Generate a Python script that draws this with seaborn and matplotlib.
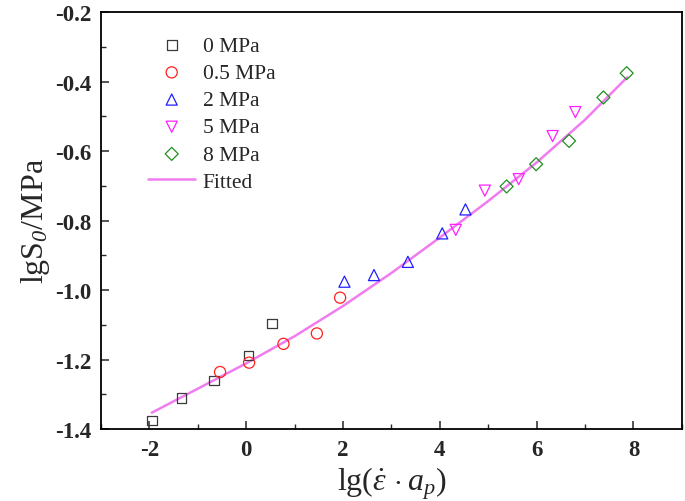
import numpy as np
import pandas as pd
import seaborn as sns
import matplotlib
matplotlib.use("Agg")
import matplotlib.pyplot as plt
from matplotlib.ticker import MultipleLocator, FormatStrFormatter

# data
x_0 = [-1.95, -1.34, -0.66, 0.05, 0.53]
y_0 = [-1.376, -1.310, -1.260, -1.188, -1.096]
x_05 = [-0.54, 0.06, 0.77, 1.46, 1.94]
y_05 = [-1.236, -1.209, -1.155, -1.125, -1.022]
x_2 = [2.03, 2.64, 3.34, 4.05, 4.53]
y_2 = [-0.976, -0.957, -0.919, -0.837, -0.768]
x_5 = [4.33, 4.93, 5.63, 6.33, 6.80]
y_5 = [-0.827, -0.714, -0.681, -0.557, -0.488]
x_8 = [5.38, 5.99, 6.67, 7.38, 7.86]
y_8 = [-0.702, -0.638, -0.571, -0.446, -0.376]

fit_x = [-1.95, -1.0, 0.0, 1.0, 2.0, 3.0, 4.0, 5.0, 6.0, 7.0, 7.87]
fit_y = [-1.353, -1.284, -1.211, -1.133, -1.046, -0.951, -0.849, -0.744, -0.633, -0.510, -0.388]

labels = ["0 MPa", "0.5 MPa", "2 MPa", "5 MPa", "8 MPa"]
markers = ["s", "o", "^", "v", "D"]
colors = ["#3a3a3a", "#ff2020", "#2020ff", "#ff20ff", "#209020"]
sizes = [48, 64, 64, 64, 44]

sns.set_style("ticks")
plt.rcParams["font.family"] = ["Liberation Serif", "DejaVu Serif"]
plt.rcParams["axes.unicode_minus"] = False
plt.rcParams["mathtext.fontset"] = "custom"
plt.rcParams["mathtext.rm"] = "Liberation Serif:italic"
plt.rcParams["mathtext.it"] = "Liberation Serif:italic"
plt.rcParams["mathtext.bf"] = "Liberation Serif:bold"

fig = plt.figure(figsize=(6.85, 5.02), dpi=100)
ax = fig.add_axes([0.1474, 0.1434, 0.848, 0.8307])

series = [(x_0, y_0), (x_05, y_05), (x_2, y_2), (x_5, y_5), (x_8, y_8)]
for (xs, ys), lab, m, c, s in zip(series, labels, markers, colors, sizes):
    df = pd.DataFrame({"x": xs, "y": ys})
    sns.scatterplot(data=df, x="x", y="y", marker=m, s=s, facecolor="none",
                    edgecolor=c, linewidth=0.9, label=lab, ax=ax, zorder=3)

fit_df = pd.DataFrame({"x": fit_x, "y": fit_y})
sns.lineplot(data=fit_df, x="x", y="y", color="#f07cf0", linewidth=1.8,
             label="Fitted", ax=ax, sort=False, zorder=2)

ax.set_xlim(-3, 9)
ax.set_ylim(-1.4, -0.2)
ax.xaxis.set_major_locator(MultipleLocator(2))
ax.xaxis.set_minor_locator(MultipleLocator(1))
ax.yaxis.set_major_locator(MultipleLocator(0.2))
ax.yaxis.set_minor_locator(MultipleLocator(0.1))
ax.set_xticks([-2, 0, 2, 4, 6, 8])
ax.yaxis.set_major_formatter(FormatStrFormatter("%.1f"))
ax.xaxis.set_major_formatter(FormatStrFormatter("%d"))

ax.tick_params(which="major", direction="in", length=6, width=1.1, pad=7,
               labelsize=16.5)
ax.tick_params(which="minor", direction="in", length=3.5, width=1.0)
fig.canvas.draw()
for lbl in ax.get_xticklabels() + ax.get_yticklabels():
    lbl.set_fontweight("bold")
for sp in ax.spines.values():
    sp.set_linewidth(1.3)
    sp.set_color("black")

ax.set_xlabel(r"lg($\dot{\varepsilon}\,\cdot a_{p}$)", fontsize=23, labelpad=3)
ax.set_ylabel(r"lgS$_{0}$/MPa", fontsize=23, labelpad=2)

leg = ax.legend(loc="upper left", bbox_to_anchor=(0.081, 0.943), frameon=False,
                fontsize=15.5, borderpad=0, borderaxespad=0, handlelength=2.2,
                handletextpad=0.35, labelspacing=0.33)

fig.savefig("out.png", dpi=100)
